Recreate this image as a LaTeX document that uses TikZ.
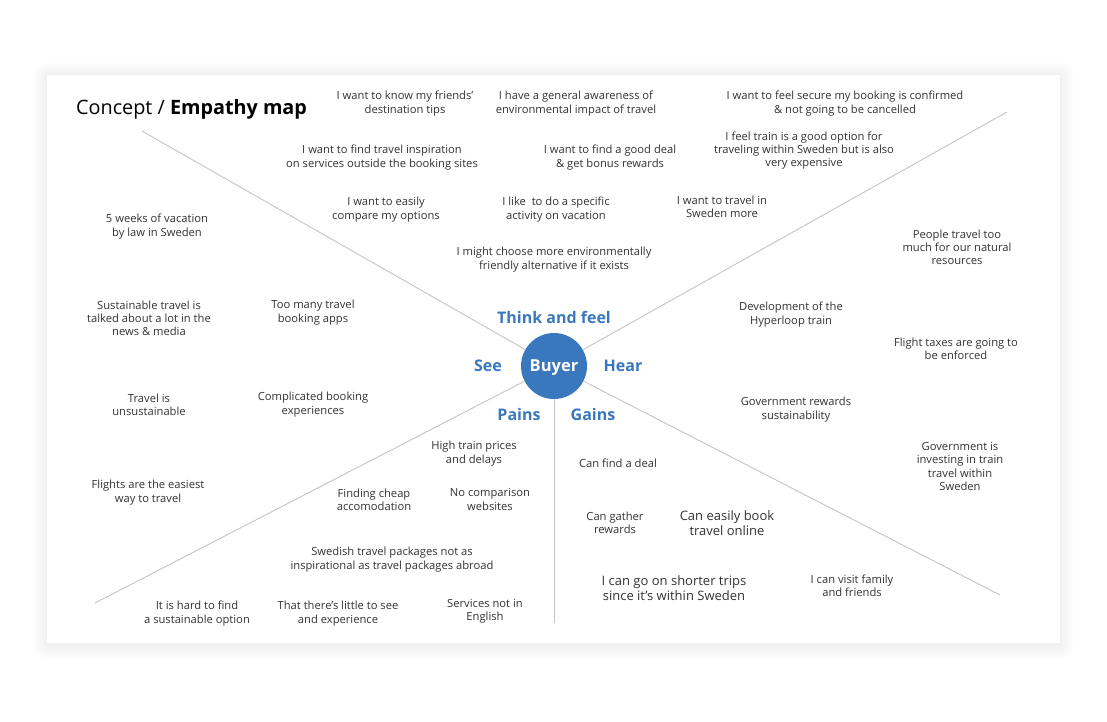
\documentclass[tikz,border=0pt]{standalone}
\usepackage{fontspec}
\setmainfont{Open Sans}
\definecolor{txt}{HTML}{333333}
\definecolor{blu}{HTML}{3A78BD}
\definecolor{lin}{HTML}{C4C4C4}
\begin{document}
\begin{tikzpicture}[x=1pt,y=-1pt,
  note/.style={align=center,inner sep=0pt,yshift=-1.5pt,text=txt,font=\fontsize{11.2}{13.2}\selectfont},
  bignote/.style={align=center,inner sep=0pt,yshift=-1.5pt,text=txt,font=\fontsize{13}{14.8}\selectfont},
  quad/.style={inner sep=0pt,text=blu,font=\fontsize{16}{18}\selectfont\bfseries},
  spoke/.style={draw=lin,line width=0.9pt}]
\useasboundingbox (0,0) rectangle (1107,721);
\fill[white] (0,0) rectangle (1107,721);
\foreach \i in {1,...,14}{
  \fill[black,opacity=0.005,rounded corners=\i pt] (47-\i,75-\i+1) rectangle (1060+\i,643+\i+2);
}
\node[fill=white,inner sep=0pt,minimum width=1013pt,minimum height=568pt,anchor=north west] (card) at (47,75) {};
\node[anchor=west,inner sep=0pt,text=black,font=\fontsize{19.8}{24}\selectfont] (title) at (76,109) {Concept / \textbf{Empathy map}};
\node[circle,fill=blu,minimum size=66pt,inner sep=0pt,text depth=0pt,text=white,font=\fontsize{16.5}{20}\selectfont\bfseries] (buyer) at (554,366) {Buyer};
\coordinate (ul) at (142,131);
\coordinate (ur) at (1007,112);
\coordinate (ll) at (95,603);
\coordinate (lr) at (1000,595);
\coordinate (bt) at (554,623);
\draw[spoke] (buyer) -- (ul);
\draw[spoke] (buyer) -- (ur);
\draw[spoke] (buyer) -- (ll);
\draw[spoke] (buyer) -- (lr);
\draw[spoke] (buyer) -- (bt);
\node[quad] (think) at (554,317) {Think and feel};
\node[quad] (see) at (488,366) {See};
\node[quad] (hear) at (623,366) {Hear};
\node[quad] (pains) at (519,414) {Pains};
\node[quad] (gains) at (593,414) {Gains};
% think and feel
\node[note] (t1) at (405,102) {I want to know my friends'\\destination tips};
\node[note] (t2) at (576,102) {I have a general awareness of\\environmental impact of travel};
\node[note] (t3) at (845,102) {I want to feel secure my booking is confirmed\\\& not going to be cancelled};
\node[note] (t4) at (382,156) {I want to find travel inspiration\\on services outside the booking sites};
\node[note] (t5) at (610,156) {I want to find a good deal\\\& get bonus rewards};
\node[note] (t6) at (804,149) {I feel train is a good option for\\traveling within Sweden but is also\\very expensive};
\node[note] (t7) at (386,208) {I want to easily\\compare my options};
\node[note] (t8) at (556,208) {I like\ \ to do a specific\\activity on vacation};
\node[note] (t9) at (722,205) {I want to travel in\\Sweden more};
\node[note] (t10) at (554,258) {I might choose more environmentally\\friendly alternative if it exists};
% see
\node[note] (s1) at (157,225) {5 weeks of vacation\\by law in Sweden};
\node[note] (s2) at (149,317) {Sustainable travel is\\talked about a lot in the\\news \& media};
\node[note] (s3) at (313,311) {Too many travel\\booking apps};
\node[note] (s4) at (149,403) {Travel is\\unsustainable};
\node[note] (s5) at (313,403) {Complicated booking\\experiences};
\node[note] (s6) at (148,491) {Flights are the easiest\\way to travel};
% hear
\node[note] (h1) at (957,246) {People travel too\\much for our natural\\resources};
\node[note] (h2) at (791,313) {Development of the\\Hyperloop train};
\node[note] (h3) at (956,347) {Flight taxes are going to\\be enforced};
\node[note] (h4) at (796,408) {Government rewards\\sustainability};
\node[note] (h5) at (960,465) {Government is\\investing in train\\travel within\\Sweden};
% pains
\node[note] (p1) at (474,452) {High train prices\\and delays};
\node[note] (p2) at (374,498) {Finding cheap\\accomodation};
\node[note] (p3) at (490,498) {No comparison\\websites};
\node[note] (p4) at (392,558) {Swedish travel packages not as\\inspirational as travel packages abroad};
\node[note] (p5) at (197,612) {It is hard to find\\a sustainable option};
\node[note] (p6) at (338,612) {That there's little to see\\and experience};
\node[note] (p7) at (485,610) {Services not in\\English};
% gains
\node[note] (g1) at (618,462) {Can find a deal};
\node[note] (g2) at (615,521) {Can gather\\rewards};
\node[bignote] (g3) at (727,522) {Can easily book\\travel online};
\node[bignote] (g4) at (674,587) {I can go on shorter trips\\since it's within Sweden};
\node[note] (g5) at (852,584) {I can visit family\\and friends};
\end{tikzpicture}
\end{document}
